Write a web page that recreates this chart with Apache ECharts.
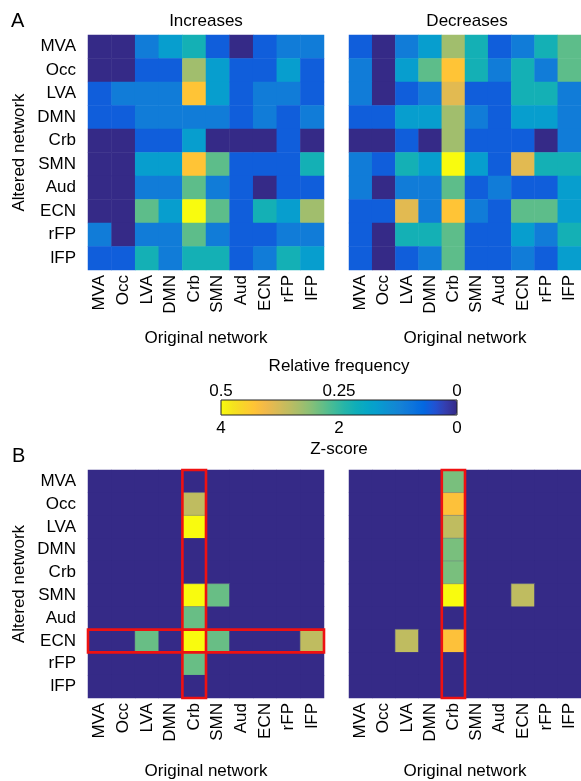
<!DOCTYPE html>
<html>
<head>
<meta charset="utf-8">
<script src="https://cdn.jsdelivr.net/npm/echarts@6/dist/echarts.min.js"></script>
<style>
html,body{margin:0;padding:0;background:#fff;}
#chart{width:581px;height:781px;}
</style>
</head>
<body>
<div id="chart"></div>
<script>
// ---- data ----
const networks = ['MVA','Occ','LVA','DMN','Crb','SMN','Aud','ECN','rFP','lFP'];

// Panel A: relative frequency (rows = altered network, columns = original network)
const incFreq = [
  [0.00, 0.00, 0.11, 0.17, 0.22, 0.06, 0.00, 0.06, 0.11, 0.11],
  [0.00, 0.00, 0.06, 0.06, 0.33, 0.17, 0.06, 0.06, 0.17, 0.06],
  [0.06, 0.11, 0.11, 0.11, 0.43, 0.17, 0.06, 0.11, 0.11, 0.06],
  [0.06, 0.06, 0.11, 0.11, 0.11, 0.11, 0.06, 0.11, 0.06, 0.11],
  [0.00, 0.00, 0.06, 0.06, 0.17, 0.00, 0.00, 0.00, 0.06, 0.00],
  [0.00, 0.00, 0.17, 0.17, 0.43, 0.28, 0.06, 0.06, 0.06, 0.22],
  [0.00, 0.00, 0.11, 0.11, 0.28, 0.11, 0.06, 0.00, 0.06, 0.06],
  [0.00, 0.00, 0.28, 0.17, 0.50, 0.28, 0.06, 0.22, 0.17, 0.33],
  [0.11, 0.00, 0.11, 0.11, 0.28, 0.11, 0.06, 0.06, 0.11, 0.11],
  [0.06, 0.06, 0.22, 0.11, 0.22, 0.22, 0.06, 0.11, 0.22, 0.17]
];
const decFreq = [
  [0.06, 0.00, 0.11, 0.17, 0.33, 0.22, 0.06, 0.11, 0.22, 0.28],
  [0.11, 0.00, 0.17, 0.28, 0.43, 0.22, 0.11, 0.22, 0.11, 0.28],
  [0.11, 0.00, 0.06, 0.11, 0.39, 0.06, 0.06, 0.22, 0.22, 0.11],
  [0.06, 0.06, 0.17, 0.17, 0.33, 0.11, 0.06, 0.17, 0.17, 0.11],
  [0.00, 0.00, 0.06, 0.00, 0.33, 0.06, 0.06, 0.06, 0.00, 0.11],
  [0.11, 0.06, 0.22, 0.17, 0.50, 0.17, 0.06, 0.39, 0.22, 0.22],
  [0.11, 0.00, 0.11, 0.11, 0.28, 0.06, 0.11, 0.06, 0.06, 0.17],
  [0.06, 0.06, 0.39, 0.11, 0.43, 0.11, 0.06, 0.28, 0.28, 0.17],
  [0.06, 0.00, 0.22, 0.22, 0.28, 0.06, 0.06, 0.17, 0.11, 0.22],
  [0.06, 0.00, 0.06, 0.11, 0.28, 0.06, 0.06, 0.11, 0.06, 0.17]
];
// Panel B: thresholded Z-scores
const incZ = [
  [0, 0, 0,    0, 0,    0,    0, 0, 0, 0],
  [0, 0, 0,    0, 2.85, 0,    0, 0, 0, 0],
  [0, 0, 0,    0, 4.0,  0,    0, 0, 0, 0],
  [0, 0, 0,    0, 0,    0,    0, 0, 0, 0],
  [0, 0, 0,    0, 0,    0,    0, 0, 0, 0],
  [0, 0, 0,    0, 4.0,  2.3,  0, 0, 0, 0],
  [0, 0, 0,    0, 2.3,  0,    0, 0, 0, 0],
  [0, 0, 2.3,  0, 4.0,  2.3,  0, 0, 0, 2.85],
  [0, 0, 0,    0, 2.3,  0,    0, 0, 0, 0],
  [0, 0, 0,    0, 0,    0,    0, 0, 0, 0]
];
const decZ = [
  [0, 0, 0,    0, 2.4,  0, 0, 0,    0, 0],
  [0, 0, 0,    0, 3.4,  0, 0, 0,    0, 0],
  [0, 0, 0,    0, 2.85, 0, 0, 0,    0, 0],
  [0, 0, 0,    0, 2.4,  0, 0, 0,    0, 0],
  [0, 0, 0,    0, 2.4,  0, 0, 0,    0, 0],
  [0, 0, 0,    0, 4.0,  0, 0, 2.85, 0, 0],
  [0, 0, 0,    0, 0,    0, 0, 0,    0, 0],
  [0, 0, 2.85, 0, 3.4,  0, 0, 0,    0, 0],
  [0, 0, 0,    0, 0,    0, 0, 0,    0, 0],
  [0, 0, 0,    0, 0,    0, 0, 0,    0, 0]
];
// highlighted blocks [xFrom, xTo, yFrom, yTo]
const boxesInc = [['Crb','Crb','MVA','lFP'], ['MVA','lFP','ECN','ECN']];
const boxesDec = [['Crb','Crb','MVA','lFP']];
const freqTicks = { min: 0, max: 0.5, interval: 0.25 };
const zTicks = { min: 0, max: 4, interval: 2 };

// ---- styles ----
const parula = ['#352a87','#353dad','#2053d4','#0268e1','#0d75dc','#1481d6','#108ed2','#079ccf',
  '#06a7c6','#0faeb9','#25b5a9','#42bb98','#65be86','#87bf77','#a5be6b','#c0bc60','#d9ba56',
  '#f1b94a','#ffc337','#fad32a','#f5e41d','#f9fb0e'];
const FONT = "'Liberation Sans', Arial, Helvetica, sans-serif";
const FS = 17;

function toCells(mat, edged) {
  const out = [];
  mat.forEach((row, yi) => row.forEach((v, xi) => {
    if (edged && v > 0) {
      out.push({ value: [xi, yi, v], itemStyle: { borderColor: 'rgba(110,120,130,0.6)', borderWidth: 0.8 } });
    } else {
      out.push([xi, yi, v]);
    }
  }));
  return out;
}

const grids = [
  { left: 88,  top: 35,  width: 236, height: 235 },
  { left: 349, top: 35,  width: 236, height: 235 },
  { left: 88,  top: 470, width: 236, height: 236, show: true, borderWidth: 0, backgroundColor: parula[0] },
  { left: 349, top: 470, width: 236, height: 236, show: true, borderWidth: 0, backgroundColor: parula[0] },
  { left: 221, top: 400, width: 236, height: 15, show: true, borderColor: '#222', borderWidth: 1, backgroundColor: 'transparent', z: 10 }
];

function heatX(i, gap) {
  return {
    type: 'category', data: networks, gridIndex: i,
    axisLine: { show: false }, axisTick: { show: false }, splitLine: { show: false },
    axisLabel: { rotate: 90, fontSize: FS, color: '#000', fontFamily: FONT, margin: 5, interval: 0 },
    name: 'Original network', nameLocation: 'middle', nameGap: gap,
    nameTextStyle: { fontSize: FS, color: '#000', fontFamily: FONT }
  };
}
function heatY(i, showLabels) {
  return {
    type: 'category', data: networks, gridIndex: i, inverse: true,
    axisLine: { show: false }, axisTick: { show: false }, splitLine: { show: false },
    axisLabel: { show: showLabels, fontSize: FS, color: '#000', fontFamily: FONT, margin: 12, interval: 0 },
    name: showLabels ? 'Altered network' : '', nameLocation: 'middle', nameRotate: 90, nameGap: 60,
    nameTextStyle: { fontSize: FS, color: '#000', fontFamily: FONT }
  };
}

const xAxes = [heatX(0, 60), heatX(1, 60), heatX(2, 65), heatX(3, 65),
  { type: 'value', gridIndex: 4, position: 'top', inverse: true, ...freqTicks,
    axisLine: { show: false }, axisTick: { show: false }, splitLine: { show: false },
    axisLabel: { fontSize: FS, color: '#000', fontFamily: FONT, margin: 0 },
    name: 'Relative frequency', nameLocation: 'middle', nameGap: 25,
    nameTextStyle: { fontSize: FS, color: '#000', fontFamily: FONT } },
  { type: 'value', gridIndex: 4, position: 'bottom', inverse: true, ...zTicks,
    axisLine: { show: false }, axisTick: { show: false }, splitLine: { show: false },
    axisLabel: { fontSize: FS, color: '#000', fontFamily: FONT, margin: 5 },
    name: 'Z-score', nameLocation: 'middle', nameGap: 26,
    nameTextStyle: { fontSize: FS, color: '#000', fontFamily: FONT } }
];
const yAxes = [heatY(0, true), heatY(1, false), heatY(2, true), heatY(3, false),
  { type: 'value', gridIndex: 4, show: false, min: 0, max: 1 }];

function heatSeries(mat, i) {
  return { type: 'heatmap', xAxisIndex: i, yAxisIndex: i, data: toCells(mat, i >= 2),
    emphasis: { disabled: true }, silent: true, progressive: 0 };
}
function boxSeries(boxes, i) {
  return {
    type: 'custom', xAxisIndex: i, yAxisIndex: i, data: boxes, clip: false, z: 5, silent: true,
    encode: { x: [0, 1], y: [2, 3] },
    renderItem: function (params, api) {
      const p0 = api.coord([api.value(0), api.value(2)]);
      const p1 = api.coord([api.value(1), api.value(3)]);
      const s = api.size([1, 1]);
      const x = Math.min(p0[0], p1[0]) - s[0] / 2;
      const y = Math.min(p0[1], p1[1]) - s[1] / 2;
      return { type: 'rect',
        shape: { x: x, y: y, width: Math.abs(p1[0] - p0[0]) + s[0], height: Math.abs(p1[1] - p0[1]) + s[1] },
        style: { fill: 'none', stroke: '#ee1111', lineWidth: 2.6 } };
    }
  };
}

const option = {
  backgroundColor: '#fff',
  animation: false,
  textStyle: { fontFamily: FONT },
  title: [
    { text: 'A', left: 11, top: 11, padding: 0, textStyle: { fontSize: 20, fontWeight: 'normal', color: '#000', fontFamily: FONT } },
    { text: 'B', left: 12, top: 446, padding: 0, textStyle: { fontSize: 20, fontWeight: 'normal', color: '#000', fontFamily: FONT } },
    { text: 'Increases', left: 206, top: 13, textAlign: 'center', padding: 0, textStyle: { fontSize: FS, fontWeight: 'normal', color: '#000', fontFamily: FONT } },
    { text: 'Decreases', left: 467, top: 13, textAlign: 'center', padding: 0, textStyle: { fontSize: FS, fontWeight: 'normal', color: '#000', fontFamily: FONT } }
  ],
  grid: grids,
  xAxis: xAxes,
  yAxis: yAxes,
  visualMap: [
    { type: 'continuous', min: freqTicks.min, max: freqTicks.max, seriesIndex: [0, 1], orient: 'horizontal', inverse: true,
      left: 221, top: 400, itemWidth: 15, itemHeight: 236, padding: 0, text: null, showLabel: false,
      calculable: false, hoverLink: false, inRange: { color: parula } },
    { type: 'continuous', min: zTicks.min, max: zTicks.max, seriesIndex: [2, 3], show: false, inRange: { color: parula } }
  ],
  series: [
    heatSeries(incFreq, 0), heatSeries(decFreq, 1), heatSeries(incZ, 2), heatSeries(decZ, 3),
    boxSeries(boxesInc, 2), boxSeries(boxesDec, 3)
  ]
};

const chart = echarts.init(document.getElementById('chart'), null, { renderer: 'canvas' });
chart.setOption(option);
</script>
</body>
</html>
